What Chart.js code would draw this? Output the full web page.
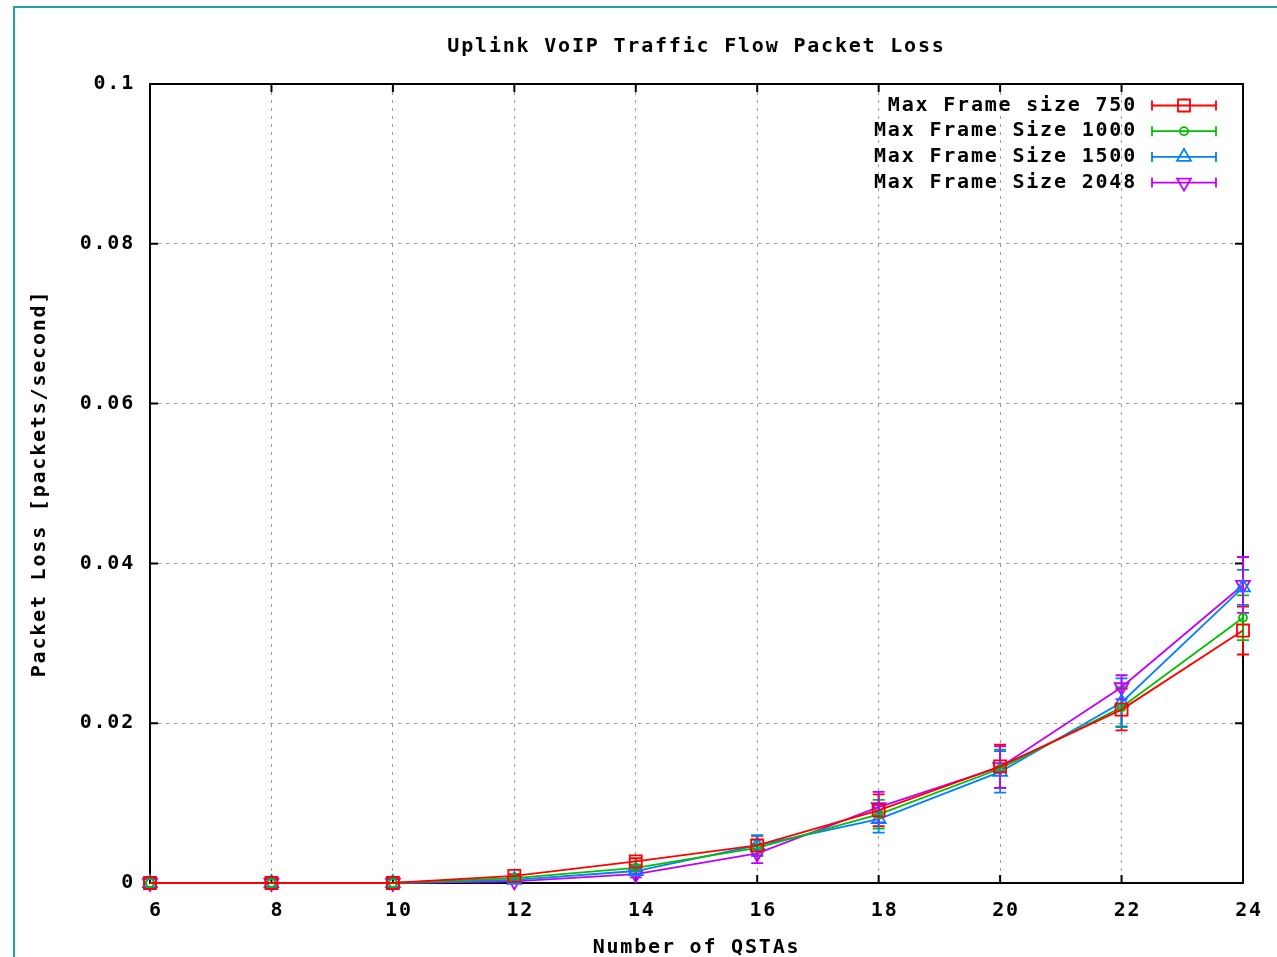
<!DOCTYPE html>
<html>
<head>
<meta charset="utf-8">
<title>Uplink VoIP Traffic Flow Packet Loss</title>
<script src="https://cdn.jsdelivr.net/npm/chart.js@4.4.1/dist/chart.umd.min.js"></script>
<style>
    body { margin: 0; background: #ffffff; }
    #wrap { position: relative; width: 1277px; height: 957px; overflow: hidden; }
    #frame { position: absolute; left: 13px; top: 6px; width: 1300px; height: 1000px; border: 2px solid #22a0a0; }
    canvas { position: absolute; left: 0; top: 0; }
</style>
</head>
<body>
<div id="wrap">
    <div id="frame"></div>
    <canvas id="lossChart" width="1277" height="957"></canvas>
</div>
<script>
// number of QSTAs
const qstas = [6, 8, 10, 12, 14, 16, 18, 20, 22, 24];

// packet loss per max frame size
const loss750  = [0, 0, 0, 0.0009, 0.0027, 0.0047, 0.0091, 0.0146, 0.0217, 0.0316];
const loss1000 = [0, 0, 0, 0.0006, 0.0019, 0.0044, 0.0086, 0.0143, 0.0220, 0.0332];
const loss1500 = [0, 0, 0, 0.0004, 0.0015, 0.0047, 0.0080, 0.0139, 0.0226, 0.0370];
const loss2048 = [0, 0, 0, 0.0002, 0.0011, 0.0037, 0.0095, 0.0145, 0.0245, 0.0373];

// error bar half widths
const err750  = [0, 0, 0, 0.0002, 0.0004, 0.0012, 0.0020, 0.0027, 0.0026, 0.0030];
const err1000 = [0, 0, 0, 0.0002, 0.0003, 0.0010, 0.0018, 0.0024, 0.0025, 0.0028];
const err1500 = [0, 0, 0, 0.0002, 0.0003, 0.0013, 0.0017, 0.0026, 0.0030, 0.0022];
const err2048 = [0, 0, 0, 0.0002, 0.0004, 0.0012, 0.0019, 0.0026, 0.0015, 0.0035];

const seriesNames = ["Max Frame size 750", "Max Frame Size 1000", "Max Frame Size 1500", "Max Frame Size 2048"];
const yTickLabels = ["0", "0.02", "0.04", "0.06", "0.08", "0.1"];

const FONT = "'DejaVu Sans Mono', 'Liberation Mono', monospace";
const FONT_SIZE = 20;
const SPACING = "1.8px";

function points(vals) {
    return qstas.map((q, i) => ({ x: q, y: vals[i] }));
}

function series(label, vals, errs, color, style, radius, rotation) {
    return {
        label: label,
        data: points(vals),
        errs: errs,
        borderColor: color,
        backgroundColor: color,
        borderWidth: 1.8,
        pointStyle: style,
        pointRadius: radius,
        pointRotation: rotation,
        pointBorderWidth: 1.8,
        pointBackgroundColor: "rgba(0,0,0,0)",
        pointBorderColor: color,
        tension: 0,
        clip: false
    };
}

function setSpacing(chart) {
    chart.ctx.letterSpacing = SPACING;
}

const spacingPlugin = {
    id: "spacing",
    beforeUpdate: setSpacing,
    beforeLayout: setSpacing,
    beforeDraw: setSpacing
};

// black frame with inward ticks on all four sides
const framePlugin = {
    id: "frame",
    beforeDatasetsDraw(chart) {
        const { ctx, chartArea: a, scales } = chart;
        ctx.save();
        ctx.strokeStyle = "#000";
        ctx.lineWidth = 2;
        ctx.strokeRect(a.left, a.top, a.right - a.left, a.bottom - a.top);
        ctx.beginPath();
        qstas.forEach(q => {
            const px = scales.x.getPixelForValue(q);
            ctx.moveTo(px, a.bottom); ctx.lineTo(px, a.bottom - 8);
            ctx.moveTo(px, a.top); ctx.lineTo(px, a.top + 8);
        });
        scales.y.ticks.forEach(t => {
            const py = scales.y.getPixelForValue(t.value);
            ctx.moveTo(a.left, py); ctx.lineTo(a.left + 8, py);
            ctx.moveTo(a.right, py); ctx.lineTo(a.right - 8, py);
        });
        ctx.stroke();
        ctx.restore();
    }
};

const errorBarPlugin = {
    id: "errorBars",
    beforeDatasetsDraw(chart) {
        const { ctx, scales } = chart;
        ctx.save();
        ctx.lineWidth = 1.8;
        chart.data.datasets.forEach(ds => {
            ctx.strokeStyle = ds.borderColor;
            ctx.beginPath();
            ds.data.forEach((p, i) => {
                const e = ds.errs[i];
                if (!e) return;
                const px = scales.x.getPixelForValue(p.x);
                const top = scales.y.getPixelForValue(p.y + e);
                const bot = scales.y.getPixelForValue(p.y - e);
                ctx.moveTo(px, top); ctx.lineTo(px, bot);
                ctx.moveTo(px - 6, top); ctx.lineTo(px + 6, top);
                ctx.moveTo(px - 6, bot); ctx.lineTo(px + 6, bot);
            });
            ctx.stroke();
        });
        ctx.restore();
    }
};

// gnuplot style key: right aligned text, sample line with marker and bar ends
const keyPlugin = {
    id: "key",
    afterDraw(chart) {
        const ctx = chart.ctx;
        ctx.save();
        ctx.letterSpacing = SPACING;
        ctx.font = "bold " + FONT_SIZE + "px " + FONT;
        ctx.textAlign = "right";
        ctx.textBaseline = "middle";
        chart.data.datasets.forEach((ds, i) => {
            const y = 105.5 + 25.7 * i;
            ctx.fillStyle = "#000";
            ctx.fillText(ds.label, 1137, y);
            ctx.strokeStyle = ds.borderColor;
            ctx.lineWidth = 1.8;
            ctx.beginPath();
            ctx.moveTo(1152, y); ctx.lineTo(1216, y);
            ctx.moveTo(1152, y - 5); ctx.lineTo(1152, y + 5);
            ctx.moveTo(1216, y - 5); ctx.lineTo(1216, y + 5);
            ctx.stroke();
            ctx.fillStyle = "rgba(0,0,0,0)";
            Chart.helpers.drawPoint(ctx, {
                pointStyle: ds.pointStyle,
                radius: ds.pointRadius,
                rotation: ds.pointRotation,
                borderWidth: 1.8
            }, 1184, y);
        });
        ctx.restore();
    }
};

Chart.defaults.font.family = FONT;
Chart.defaults.font.size = FONT_SIZE;
Chart.defaults.font.weight = "bold";
Chart.defaults.color = "#000";

const ctx = document.getElementById("lossChart").getContext("2d");
const lossChart = new Chart(ctx, {
    type: "line",
    data: {
        datasets: [
            series(seriesNames[0], loss750, err750, "#ff0000", "rect", 8.5, 0),
            series(seriesNames[1], loss1000, err1000, "#00c000", "circle", 4, 0),
            series(seriesNames[2], loss1500, err1500, "#0080ff", "triangle", 8, 0),
            series(seriesNames[3], loss2048, err2048, "#c000ff", "triangle", 8, 180)
        ]
    },
    options: {
        responsive: false,
        animation: false,
        events: [],
        layout: { padding: { left: 0, right: 34, top: 0, bottom: 0 } },
        plugins: {
            legend: { display: false },
            tooltip: { enabled: false },
            title: {
                display: true,
                text: "Uplink VoIP Traffic Flow Packet Loss",
                fullSize: false,
                font: { size: FONT_SIZE, weight: "bold" },
                padding: { top: 35, bottom: 25 }
            }
        },
        scales: {
            x: {
                type: "linear",
                min: 6,
                max: 24,
                afterFit(scale) { scale.height = 74; },
                ticks: { stepSize: 2, padding: 16, maxRotation: 0, labelOffset: 6 },
                grid: { color: "#999999", lineWidth: 1, drawTicks: false },
                border: { display: false, dash: [3, 5] },
                title: { display: true, text: "Number of QSTAs", padding: { top: 0, bottom: -3 } }
            },
            y: {
                min: 0,
                max: 0.1,
                afterFit(scale) { scale.width = 150; },
                ticks: {
                    stepSize: 0.02,
                    padding: 15,
                    callback: (v, i) => yTickLabels[i]
                },
                grid: { color: "#999999", lineWidth: 1, drawTicks: false },
                border: { display: false, dash: [3, 5] },
                title: { display: true, text: "Packet Loss [packets/second]", padding: { top: 28, bottom: 0 } }
            }
        }
    },
    plugins: [spacingPlugin, framePlugin, errorBarPlugin, keyPlugin]
});
</script>
</body>
</html>
